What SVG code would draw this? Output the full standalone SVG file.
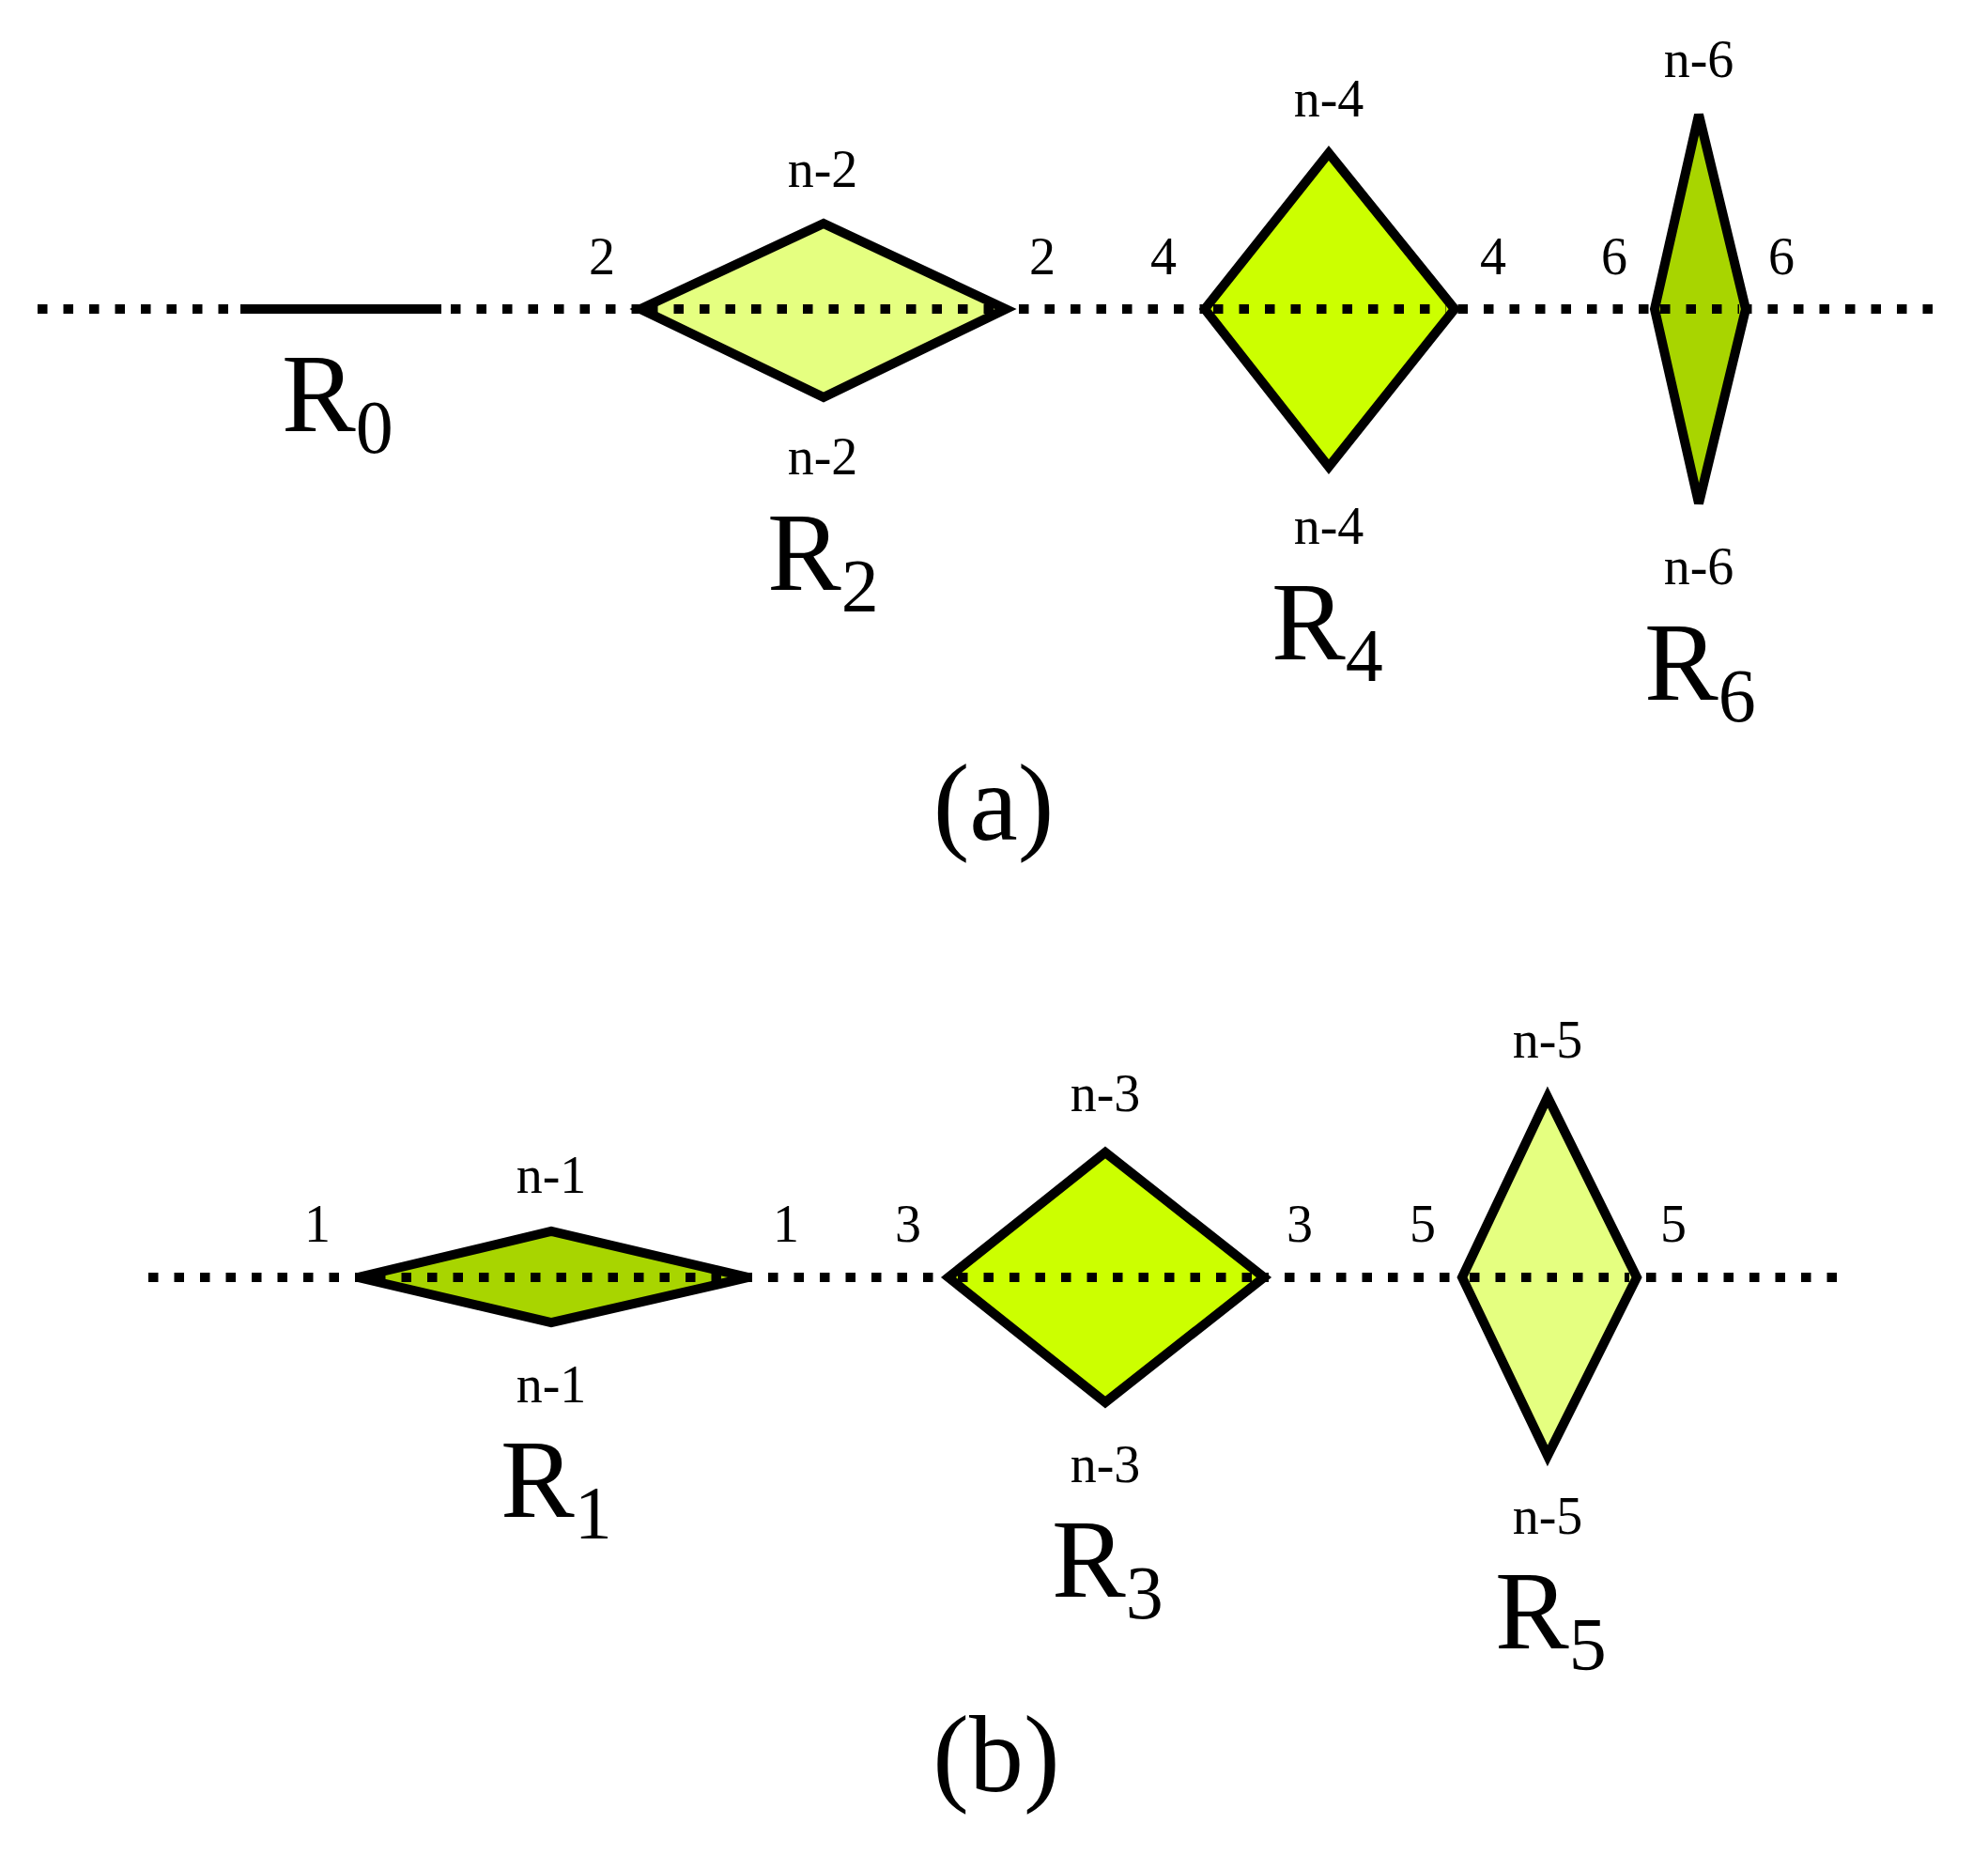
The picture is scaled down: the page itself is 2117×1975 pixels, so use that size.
<svg xmlns="http://www.w3.org/2000/svg" width="2117" height="1975" viewBox="0 0 2117 1975">
<style>
.bg{fill:#ffffff}
.dot{stroke:#000;stroke-width:10;stroke-dasharray:10.5 17;fill:none}
.solid{stroke:#000;stroke-width:10;fill:none}
.dia{stroke:#000;stroke-width:10;stroke-linejoin:miter;stroke-miterlimit:4}
.light{fill:#E5FF80}
.mid{fill:#CCFF00}
.dark{fill:#A8D500}
text{font-family:'Liberation Serif','Times New Roman',Tinos,Times,serif;fill:#000}
.num{font-size:56px;text-anchor:middle}
.big{font-size:118px}
.sub{font-size:80px}
.cap{font-size:116px;text-anchor:middle}
</style>
<rect class="bg" x="0" y="0" width="2117" height="1975"/>
<g id="connectors">
<line class="dot" x1="40" y1="329" x2="2066" y2="329"/>
<line class="dot" x1="158" y1="1360" x2="1958" y2="1360"/>
</g>
<g id="R0">
<line class="solid" x1="256" y1="329" x2="470" y2="329"/>
<text class="big" x="300" y="459" font-family="Liberation Serif, serif">R<tspan class="sub" dy="23">0</tspan></text>
</g>
<g id="R2">
<polygon class="dia light" points="682,329 877,238 1071,329 877,423"/>
<line class="dot" x1="690" y1="329" x2="1062" y2="329"/>
<text class="num" x="641" y="292">2</text>
<text class="num" x="1110" y="292">2</text>
<text class="num" x="876" y="199">n-2</text>
<text class="num" x="876" y="505">n-2</text>
<text class="big" x="817" y="628">R<tspan class="sub" dy="23">2</tspan></text>
</g>
<g id="R4">
<polygon class="dia mid" points="1283,329 1415,163 1549,329 1415,497"/>
<line class="dot" x1="1292" y1="329" x2="1540" y2="329"/>
<text class="num" x="1239" y="292">4</text>
<text class="num" x="1590" y="292">4</text>
<text class="num" x="1415" y="124">n-4</text>
<text class="num" x="1415" y="579">n-4</text>
<text class="big" x="1354" y="702">R<tspan class="sub" dy="23">4</tspan></text>
</g>
<g id="R6">
<polygon class="dia dark" points="1762,329 1809,122 1859,329 1809,536"/>
<line class="dot" x1="1768" y1="329" x2="1852" y2="329"/>
<text class="num" x="1719" y="292">6</text>
<text class="num" x="1897" y="292">6</text>
<text class="num" x="1809" y="82">n-6</text>
<text class="num" x="1809" y="622">n-6</text>
<text class="big" x="1751" y="745">R<tspan class="sub" dy="23">6</tspan></text>
</g>
<g id="label-a">
<text class="cap" x="1058" y="894">(a)</text>
</g>
<g id="R1">
<polygon class="dia dark" points="381,1360 587,1311 797,1360 587,1408"/>
<line class="dot" x1="400" y1="1360" x2="770" y2="1360"/>
<text class="num" x="338" y="1322">1</text>
<text class="num" x="837" y="1322">1</text>
<text class="num" x="587" y="1270">n-1</text>
<text class="num" x="587" y="1493">n-1</text>
<text class="big" x="533" y="1615">R<tspan class="sub" dy="23">1</tspan></text>
</g>
<g id="R3">
<polygon class="dia mid" points="1010,1360 1177,1227 1346,1360 1177,1493"/>
<line class="dot" x1="1020" y1="1360" x2="1336" y2="1360"/>
<text class="num" x="967" y="1322">3</text>
<text class="num" x="1384" y="1322">3</text>
<text class="num" x="1177" y="1183">n-3</text>
<text class="num" x="1177" y="1578">n-3</text>
<text class="big" x="1120" y="1700">R<tspan class="sub" dy="23">3</tspan></text>
</g>
<g id="R5">
<polygon class="dia light" points="1557,1360 1648,1168 1743,1360 1648,1550"/>
<line class="dot" x1="1565" y1="1360" x2="1735" y2="1360"/>
<text class="num" x="1515" y="1322">5</text>
<text class="num" x="1782" y="1322">5</text>
<text class="num" x="1648" y="1126">n-5</text>
<text class="num" x="1648" y="1633">n-5</text>
<text class="big" x="1592" y="1755">R<tspan class="sub" dy="23">5</tspan></text>
</g>
<g id="label-b">
<text class="cap" x="1061" y="1907">(b)</text>
</g>
</svg>
